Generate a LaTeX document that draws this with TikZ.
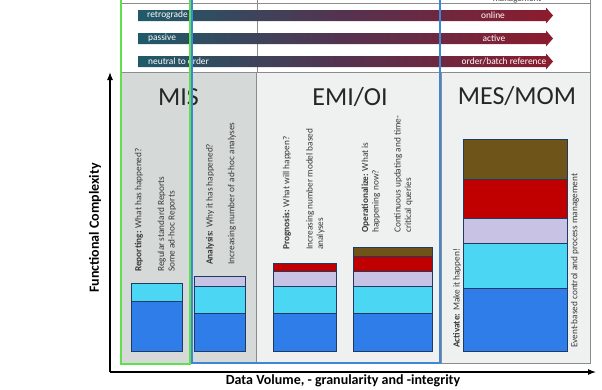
\documentclass[tikz,border=0pt]{standalone}
\usepackage{fontspec}
\setmainfont{Carlito}
\usetikzlibrary{arrows.meta}
\definecolor{misgray}{HTML}{D5DAD9}
\definecolor{panelgray}{HTML}{EFF1F1}
\definecolor{bordergray}{HTML}{8C8C8C}
\definecolor{greenfr}{HTML}{5FE04C}
\definecolor{bluefr}{HTML}{3C88D6}
\definecolor{barblue}{HTML}{2F7DE9}
\definecolor{barcyan}{HTML}{4BD6F4}
\definecolor{barlav}{HTML}{C8C2E4}
\definecolor{barred}{HTML}{C00000}
\definecolor{barbrown}{HTML}{6E5418}
\definecolor{barline}{HTML}{1F3B63}
\definecolor{arrteal}{HTML}{1F5A69}
\definecolor{arrred}{HTML}{8D1B2D}
\definecolor{arrmid}{HTML}{55324F}
\definecolor{txtgray}{HTML}{3A3A3A}
\tikzset{
  panel/.style={draw=bordergray, line width=0.6pt},
  seg/.style={draw=barline, line width=0.6pt},
  title/.style={font=\fontsize{26}{30}\selectfont, text=black!85, anchor=base, inner sep=0pt},
  vtext/.style={rotate=90, anchor=west, inner sep=0pt, align=left, text=txtgray,
    font=\fontsize{9.3}{10.5}\selectfont},
  bandtext/.style={text=white, inner sep=0pt, font=\fontsize{9.4}{10}\selectfont},
  axislabel/.style={font=\bfseries\fontsize{14}{16}\selectfont, inner sep=0pt},
  bandarrow/.style={left color=arrteal, right color=arrred, middle color=arrmid},
  axis/.style={line width=1.1pt, -{Latex[length=8pt,width=6pt]}}
}
\begin{document}
\begin{tikzpicture}[x=1pt,y=-1pt]
\useasboundingbox (0,0) rectangle (602,389);
% top band lines
\draw[bordergray, line width=0.6pt] (120,3) -- (590,3);
\draw[bordergray, line width=0.6pt] (257,-2) -- (257,72);
\draw[bordergray, line width=0.6pt] (590,-2) -- (590,72);
\node[text=black!75, font=\fontsize{9}{10}\selectfont, anchor=base, inner sep=0pt] (mgmt) at (517,1.5) {management};
% panels
\filldraw[panel, fill=misgray] (121,72) rectangle (256,363);
\filldraw[panel, fill=panelgray] (256,72) rectangle (440,363);
\filldraw[panel, fill=panelgray] (441,72) rectangle (590,363);
% band arrows
\shade[bandarrow] (138,10) -- (546,10) -- (546,7.5) -- (553,15.5) -- (546,23.5) -- (546,21) -- (138,21) -- cycle;
\shade[bandarrow] (138,33) -- (546,33) -- (546,30.5) -- (553,38.5) -- (546,46.5) -- (546,44) -- (138,44) -- cycle;
\shade[bandarrow] (138,56) -- (546,56) -- (546,53.5) -- (553,61.5) -- (546,69.5) -- (546,67) -- (138,67) -- cycle;
\node[bandtext, anchor=west] (retro) at (147,15.5) {retrograde};
\node[bandtext] (online) at (493,15.5) {online};
\node[bandtext, anchor=west] (passive) at (148,38.5) {passive};
\node[bandtext] (active) at (494,38.5) {active};
\node[bandtext, anchor=west] (neutral) at (148,61.5) {neutral to order};
\node[bandtext] (order) at (504,61.5) {order/batch reference};
% titles
\node[title] (mis) at (178.5,105) {MIS};
\node[title] (emi) at (350,105) {EMI/OI};
\node[title] (mes) at (517,104) {MES/MOM};
% bars
% MIS
\filldraw[seg, fill=barcyan] (131,283) rectangle (182,301);
\filldraw[seg, fill=barblue] (131,301) rectangle (182,351);
% Analysis
\filldraw[seg, fill=barlav] (194,276) rectangle (245,286);
\filldraw[seg, fill=barcyan] (194,286) rectangle (245,313);
\filldraw[seg, fill=barblue] (194,313) rectangle (245,351);
% Prognosis
\filldraw[seg, fill=barred] (273,263) rectangle (336,271);
\filldraw[seg, fill=barlav] (273,271) rectangle (336,286);
\filldraw[seg, fill=barcyan] (273,286) rectangle (336,313);
\filldraw[seg, fill=barblue] (273,313) rectangle (336,351);
% Operationalize
\filldraw[seg, fill=barbrown] (353,247) rectangle (432,256);
\filldraw[seg, fill=barred] (353,256) rectangle (432,271);
\filldraw[seg, fill=barlav] (353,271) rectangle (432,286);
\filldraw[seg, fill=barcyan] (353,286) rectangle (432,313);
\filldraw[seg, fill=barblue] (353,313) rectangle (432,351);
% MES
\filldraw[seg, fill=barbrown] (463,139) rectangle (567,179);
\filldraw[seg, fill=barred] (463,179) rectangle (567,218);
\filldraw[seg, fill=barlav] (463,218) rectangle (567,243);
\filldraw[seg, fill=barcyan] (463,243) rectangle (567,288);
\filldraw[seg, fill=barblue] (463,288) rectangle (567,351);
% rotated texts
\node[vtext] (rep1) at (139,272) {\textbf{Reporting:} What has happened?};
\node[vtext] (rep2) at (167,272) {Regular standard Reports\\Some ad-hoc Reports};
\node[vtext] (ana1) at (210,265) {\textbf{Analysis:} Why it has happened?};
\node[vtext] (ana2) at (232,265) {Increasing number of ad-hoc analyses};
\node[vtext] (prog1) at (287,250) {\textbf{Prognosis:} What will happen?};
\node[vtext] (prog2) at (315.5,250) {Increasing number model based\\analyses};
\node[vtext] (op1) at (371,233) {\textbf{Operationalize:} What is\\happening now?};
\node[vtext] (op2) at (403.5,233) {Continuous updating and time-\\critical queries};
\node[vtext] (act) at (457,348) {\textbf{Activate:} Make it happen!};
\node[vtext] (evt) at (575,348) {Event-based control and process management};
% frames
\draw[greenfr, line width=2.2pt] (121,-5) rectangle (190,364);
\draw[bluefr, line width=1.6pt] (192,-5) rectangle (440,363);
% axes
\coordinate (origin) at (110,372);
\coordinate (ytip) at (110,72);
\coordinate (xtip) at (596,372);
\draw[axis] (origin) -- (ytip);
\draw[axis] (origin) -- (xtip);
\node[axislabel, rotate=90] (ylab) at (95,228) {Functional Complexity};
\node[axislabel] (xlab) at (343,381) {Data Volume, - granularity and -integrity};
\end{tikzpicture}
\end{document}
